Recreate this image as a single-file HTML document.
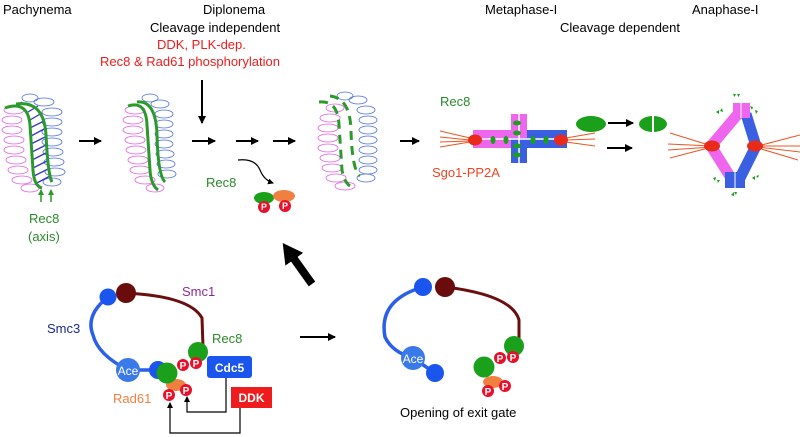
<!DOCTYPE html>
<html><head><meta charset="utf-8"><style>
html,body{margin:0;padding:0;background:#fff;}
svg{display:block;font-family:"Liberation Sans",sans-serif;}
</style></head><body>
<svg width="800" height="437" viewBox="0 0 800 437" xmlns="http://www.w3.org/2000/svg">
<defs>
<marker id="ah" markerWidth="8" markerHeight="8" refX="7" refY="4" orient="auto" markerUnits="userSpaceOnUse"><path d="M0,0 L8,4 L0,8 z" fill="#000"/></marker>
<marker id="ahs" markerWidth="6" markerHeight="6" refX="5" refY="3" orient="auto" markerUnits="userSpaceOnUse"><path d="M0,0 L6,3 L0,6 z" fill="#000"/></marker>
<marker id="ahg" markerWidth="6" markerHeight="6" refX="5" refY="3" orient="auto" markerUnits="userSpaceOnUse"><path d="M0,0 L6,3 L0,6 z" fill="#2a9a2a"/></marker>
<marker id="ahb" markerWidth="22" markerHeight="22" refX="4" refY="11" orient="auto" markerUnits="userSpaceOnUse"><path d="M0,0 L20,11 L0,22 z" fill="#000"/></marker>
<g id="lp"><ellipse cx="0" cy="0" rx="9" ry="3.5" fill="none" stroke-width="0.8"/></g>
</defs>

<!-- Titles -->
<g font-size="13" fill="#000">
<text x="3" y="14">Pachynema</text>
<text x="203" y="14">Diplonema</text>
<text x="150" y="32">Cleavage independent</text>
<text x="485" y="14">Metaphase-I</text>
<text x="692" y="14">Anaphase-I</text>
<text x="560" y="32">Cleavage dependent</text>
</g>
<g font-size="13" fill="#ee1c1c">
<text x="157" y="49">DDK, PLK-dep.</text>
<text x="100" y="66">Rec8 &amp; Rad61 phosphorylation</text>
</g>

<!-- Chromosome 1 -->
<g stroke="#e060e0" fill="none" stroke-width="0.8">
<ellipse cx="14" cy="110" rx="10" ry="4"/><ellipse cx="12" cy="120" rx="10" ry="4"/><ellipse cx="12" cy="130" rx="10" ry="4"/><ellipse cx="14" cy="140" rx="10" ry="4"/><ellipse cx="14" cy="150" rx="10" ry="4"/><ellipse cx="16" cy="160" rx="10" ry="4"/><ellipse cx="18" cy="170" rx="10" ry="4"/><ellipse cx="22" cy="180" rx="10" ry="4"/><ellipse cx="30" cy="188" rx="9" ry="4"/>
</g>
<g stroke="#4a6ee0" fill="none" stroke-width="0.8">
<ellipse cx="30" cy="98" rx="8" ry="4"/><ellipse cx="44" cy="102" rx="10" ry="4"/><ellipse cx="52" cy="112" rx="10" ry="4"/><ellipse cx="52" cy="122" rx="10" ry="4"/><ellipse cx="52" cy="132" rx="10" ry="4"/><ellipse cx="52" cy="142" rx="10" ry="4"/><ellipse cx="53" cy="152" rx="10" ry="4"/><ellipse cx="54" cy="162" rx="10" ry="4"/><ellipse cx="55" cy="172" rx="10" ry="4"/><ellipse cx="52" cy="182" rx="9" ry="4"/>
</g>
<path d="M14 106 L40 104 L50 180 L38 188 L32 186 L30 110 Z" fill="none"/>
<g stroke="#3333cc" stroke-width="1.3">
<line x1="14" y1="107" x2="22" y2="102"/><line x1="28" y1="112" x2="38" y2="106"/><line x1="30" y1="120" x2="42" y2="113"/><line x1="30" y1="128" x2="44" y2="121"/><line x1="31" y1="136" x2="46" y2="128"/><line x1="31" y1="144" x2="47" y2="136"/><line x1="32" y1="152" x2="48" y2="144"/><line x1="32" y1="160" x2="48" y2="152"/><line x1="33" y1="168" x2="49" y2="160"/><line x1="34" y1="176" x2="50" y2="168"/><line x1="35" y1="184" x2="50" y2="176"/>
</g>
<path d="M5 108 Q28 100 30 125 L33 170 Q34 186 42 188" stroke="#2a9a2a" stroke-width="3" fill="none"/>
<path d="M16 104 Q44 100 46 135 Q48 175 52 182" stroke="#2a9a2a" stroke-width="3" fill="none"/>
<line x1="41" y1="202" x2="41" y2="190" stroke="#2a9a2a" stroke-width="1.5" marker-end="url(#ahg)"/>
<line x1="51" y1="202" x2="51" y2="190" stroke="#2a9a2a" stroke-width="1.5" marker-end="url(#ahg)"/>
<text x="29" y="223" font-size="13" fill="#2a8a2a">Rec8</text>
<text x="28" y="241" font-size="13" fill="#2a8a2a">(axis)</text>

<!-- Chromosome 2 -->
<g stroke="#e060e0" fill="none" stroke-width="0.8">
<ellipse cx="135" cy="110" rx="10" ry="4"/><ellipse cx="133" cy="120" rx="10" ry="4"/><ellipse cx="133" cy="130" rx="10" ry="4"/><ellipse cx="135" cy="140" rx="10" ry="4"/><ellipse cx="136" cy="150" rx="10" ry="4"/><ellipse cx="138" cy="160" rx="10" ry="4"/><ellipse cx="140" cy="170" rx="10" ry="4"/><ellipse cx="145" cy="180" rx="10" ry="4"/><ellipse cx="155" cy="188" rx="9" ry="4"/>
</g>
<g stroke="#4a6ee0" fill="none" stroke-width="0.8">
<ellipse cx="150" cy="98" rx="8" ry="4"/><ellipse cx="160" cy="104" rx="9" ry="4"/><ellipse cx="164" cy="114" rx="9" ry="4"/><ellipse cx="164" cy="124" rx="9" ry="4"/><ellipse cx="164" cy="134" rx="9" ry="4"/><ellipse cx="164" cy="144" rx="9" ry="4"/><ellipse cx="165" cy="154" rx="9" ry="4"/><ellipse cx="166" cy="164" rx="9" ry="4"/><ellipse cx="167" cy="174" rx="9" ry="4"/>
</g>
<path d="M128 106 Q146 100 147 125 L150 170 Q151 185 158 190" stroke="#2a9a2a" stroke-width="3" fill="none"/>
<path d="M137 102 Q156 100 157 135 Q158 175 165 182" stroke="#2a9a2a" stroke-width="3" fill="none"/>

<!-- Chromosome 3 -->
<g stroke="#e060e0" fill="none" stroke-width="0.8">
<ellipse cx="330" cy="118" rx="10" ry="4"/><ellipse cx="328" cy="128" rx="10" ry="4"/><ellipse cx="328" cy="138" rx="10" ry="4"/><ellipse cx="328" cy="148" rx="10" ry="4"/><ellipse cx="330" cy="158" rx="10" ry="4"/><ellipse cx="332" cy="168" rx="10" ry="4"/><ellipse cx="336" cy="178" rx="10" ry="4"/><ellipse cx="345" cy="186" rx="10" ry="4"/><ellipse cx="335" cy="108" rx="9" ry="4"/>
</g>
<g stroke="#4a6ee0" fill="none" stroke-width="0.8">
<ellipse cx="345" cy="96" rx="8" ry="4"/><ellipse cx="358" cy="100" rx="9" ry="4"/><ellipse cx="366" cy="110" rx="9" ry="4"/><ellipse cx="368" cy="120" rx="9" ry="4"/><ellipse cx="368" cy="130" rx="9" ry="4"/><ellipse cx="368" cy="140" rx="9" ry="4"/><ellipse cx="368" cy="150" rx="9" ry="4"/><ellipse cx="368" cy="160" rx="9" ry="4"/><ellipse cx="368" cy="170" rx="9" ry="4"/><ellipse cx="366" cy="178" rx="9" ry="4"/>
</g>
<path d="M319 102 Q338 100 339 125 L342 170 Q344 182 350 186" stroke="#2a9a2a" stroke-width="3" fill="none" stroke-dasharray="9 6"/>
<path d="M330 96 Q350 98 351 130 Q352 170 360 176" stroke="#2a9a2a" stroke-width="3" fill="none" stroke-dasharray="9 6"/>

<!-- Arrows top row -->
<g stroke="#000" stroke-width="2">
<line x1="79" y1="141" x2="101" y2="141" marker-end="url(#ah)"/>
<line x1="192" y1="141" x2="215" y2="141" marker-end="url(#ah)"/>
<line x1="236" y1="141" x2="258" y2="141" marker-end="url(#ah)"/>
<line x1="273" y1="141" x2="295" y2="141" marker-end="url(#ah)"/>
<line x1="400" y1="141" x2="419" y2="141" marker-end="url(#ah)"/>
<line x1="202" y1="80" x2="202" y2="123" marker-end="url(#ah)"/>
<line x1="608" y1="123" x2="633" y2="123" marker-end="url(#ah)"/>
<line x1="607" y1="148" x2="632" y2="148" marker-end="url(#ah)"/>
</g>
<path d="M238 160 Q255 158 260 170 Q264 180 273 183" stroke="#000" stroke-width="1.2" fill="none" marker-end="url(#ahs)"/>
<text x="206" y="187" font-size="13" fill="#2a8a2a">Rec8</text>
<ellipse cx="264" cy="198" rx="10" ry="6" fill="#1aa01a"/>
<ellipse cx="284" cy="196" rx="11" ry="6" fill="#f08040"/>
<g font-size="9" fill="#fff" font-weight="bold" text-anchor="middle">
<circle cx="264" cy="207" r="6" fill="#e8102a"/><text x="264" y="210">P</text>
<circle cx="285" cy="206" r="6" fill="#e8102a"/><text x="285" y="209">P</text>
</g>

<!-- Metaphase-I -->
<text x="440" y="106" font-size="13" fill="#2a8a2a">Rec8</text>
<text x="432" y="177" font-size="13" fill="#ee4422">Sgo1-PP2A</text>
<g stroke="#ee5522" stroke-width="1">
<line x1="440" y1="131" x2="470" y2="138"/><line x1="440" y1="137" x2="470" y2="140"/><line x1="440" y1="142" x2="470" y2="141"/><line x1="440" y1="147" x2="470" y2="142"/>
<line x1="566" y1="138" x2="595" y2="133"/><line x1="566" y1="140" x2="595" y2="139"/><line x1="566" y1="142" x2="595" y2="146"/>
</g>
<rect x="473" y="130" width="54" height="18" fill="#ee66ee"/>
<rect x="527" y="130" width="40" height="18" fill="#3a5fe0"/>
<rect x="511" y="114" width="16" height="24" fill="#ee66ee"/>
<rect x="511" y="138" width="16" height="25" fill="#3a5fe0"/>
<line x1="473" y1="139" x2="567" y2="139" stroke="#fff" stroke-width="1.5"/>
<line x1="519" y1="114" x2="519" y2="163" stroke="#fff" stroke-width="1.5"/>
<g fill="#1aa01a">
<ellipse cx="493" cy="140" rx="2.5" ry="4"/><ellipse cx="506" cy="140" rx="2.5" ry="4"/><ellipse cx="533" cy="140" rx="2.5" ry="4"/><ellipse cx="546" cy="140" rx="2.5" ry="4"/>
<ellipse cx="517" cy="123" rx="4" ry="2.5"/><ellipse cx="517" cy="133" rx="4" ry="2.5"/><ellipse cx="517" cy="146" rx="4" ry="2.5"/><ellipse cx="517" cy="155" rx="4" ry="2.5"/>
</g>
<ellipse cx="475" cy="140" rx="7" ry="5.5" fill="#e82a1a"/>
<ellipse cx="561" cy="140" rx="7" ry="5.5" fill="#e82a1a"/>
<ellipse cx="591" cy="124" rx="15" ry="8" fill="#1aa01a"/>
<ellipse cx="653" cy="124" rx="14" ry="8" fill="#1aa01a"/>
<line x1="653" y1="115" x2="653" y2="133" stroke="#fff" stroke-width="2"/>

<!-- Anaphase-I -->
<g stroke="#ee5522" stroke-width="1">
<line x1="670" y1="133" x2="712" y2="146"/><line x1="668" y1="144" x2="712" y2="146"/><line x1="668" y1="150" x2="712" y2="147"/><line x1="670" y1="158" x2="712" y2="147"/>
<line x1="758" y1="146" x2="800" y2="135"/><line x1="758" y1="146" x2="800" y2="146"/><line x1="758" y1="147" x2="800" y2="152"/><line x1="758" y1="148" x2="798" y2="160"/>
</g>
<path d="M738 114 L711 146 L731 178" stroke="#ee66ee" stroke-width="11" fill="none" stroke-linejoin="miter"/>
<path d="M746 114 L756 146 L740 178" stroke="#3a5fe0" stroke-width="11" fill="none" stroke-linejoin="miter"/>
<rect x="733" y="103" width="17" height="15" fill="#ee66ee"/>
<rect x="725" y="172" width="20" height="16" fill="#3a5fe0"/>
<line x1="741" y1="103" x2="741" y2="118" stroke="#fff" stroke-width="1"/>
<line x1="735" y1="172" x2="735" y2="188" stroke="#fff" stroke-width="1"/>
<ellipse cx="712" cy="146" rx="8" ry="5.5" fill="#e82a1a"/>
<ellipse cx="755" cy="146" rx="8" ry="5.5" fill="#e82a1a"/>
<g fill="#1aa01a">
<path d="M733 94 l3 0 l-1.5 3z"/><path d="M737 94 l3 0 l-1.5 3z"/>
<path d="M716 112 l3 -2 l0 4z"/><path d="M720 111 l2 -3 l1 4z"/>
<path d="M750 106 l3 1 l-1 3z"/><path d="M755 110 l3 1 l-2 3z"/>
<path d="M713 178 l3 -1 l-1 4z"/><path d="M717 180 l3 0 l-2 3z"/>
<path d="M752 178 l3 -2 l0 4z"/><path d="M756 176 l3 -1 l-1 3z"/>
<path d="M731 195 l3 -3 l0 4z"/><path d="M736 195 l-2 -3 l3 0z"/>
</g>

<!-- Big arrow -->
<line x1="312" y1="284" x2="292" y2="256" stroke="#000" stroke-width="8" marker-end="url(#ahb)"/>

<!-- Bottom left complex -->
<path d="M108 297 Q85 315 93 335 Q98 355 128 370" stroke="#2a5fe8" stroke-width="3.5" fill="none"/>
<line x1="128" y1="370" x2="158" y2="370" stroke="#2a5fe8" stroke-width="3.5"/>
<path d="M125 293 Q190 296 202 318 L203 347" stroke="#6a0e0e" stroke-width="3" fill="none"/>
<circle cx="108" cy="297" r="8.5" fill="#1a55ee"/>
<circle cx="126" cy="293" r="10" fill="#6a0c0c"/>
<circle cx="128" cy="370" r="12" fill="#3a7ae8"/>
<text x="128" y="375" font-size="12" fill="#fff" text-anchor="middle">Ace</text>
<circle cx="158" cy="370" r="9" fill="#1a55ee"/>
<circle cx="198" cy="352" r="10" fill="#1aa01a"/>
<ellipse cx="176" cy="385" rx="10" ry="6" fill="#f08040"/>
<circle cx="167" cy="373" r="10.5" fill="#1aa01a"/>
<g font-size="10" fill="#fff" font-weight="bold" text-anchor="middle">
<ellipse cx="183" cy="365" rx="6" ry="6" fill="#e8102a"/><text x="183" y="369">P</text>
<ellipse cx="196" cy="363" rx="6" ry="6" fill="#e8102a"/><text x="196" y="367">P</text>
<ellipse cx="169" cy="395" rx="6" ry="6" fill="#e8102a"/><text x="169" y="399">P</text>
<ellipse cx="186" cy="390" rx="6" ry="6" fill="#e8102a"/><text x="186" y="394">P</text>
</g>
<rect x="207" y="356" width="45" height="22" rx="3" fill="#1a55ee"/>
<text x="229.5" y="372" font-size="12" font-weight="bold" fill="#fff" text-anchor="middle">Cdc5</text>
<rect x="231" y="387" width="41" height="21" fill="#ee1c1c"/>
<text x="251.5" y="402" font-size="12" font-weight="bold" fill="#fff" text-anchor="middle">DDK</text>
<g stroke="#000" stroke-width="1.2" fill="none">
<polyline points="226,378 226,412 187,412 187,397" marker-end="url(#ahs)"/>
<polyline points="240,408 240,433 170,433 170,403" marker-end="url(#ahs)"/>
</g>
<text x="182" y="296" font-size="13" fill="#8a2a9a">Smc1</text>
<text x="47" y="333" font-size="13" fill="#1a2a8a">Smc3</text>
<text x="212" y="343" font-size="13" fill="#2a8a2a">Rec8</text>
<text x="113" y="403" font-size="13" fill="#f08040">Rad61</text>

<line x1="300" y1="337" x2="335" y2="337" stroke="#000" stroke-width="2" marker-end="url(#ah)"/>

<!-- Bottom right complex -->
<path d="M423 287 Q378 300 385 337 Q392 352 413 358" stroke="#2a5fe8" stroke-width="3.5" fill="none"/>
<line x1="413" y1="358" x2="435" y2="373" stroke="#2a5fe8" stroke-width="3.5"/>
<path d="M445 287 Q512 295 519 320 L519 340" stroke="#6a0e0e" stroke-width="3" fill="none"/>
<circle cx="423" cy="287" r="9" fill="#1a55ee"/>
<circle cx="445" cy="287" r="10" fill="#6a0c0c"/>
<circle cx="413" cy="358" r="12" fill="#3a7ae8"/>
<text x="413" y="363" font-size="12" fill="#fff" text-anchor="middle">Ace</text>
<circle cx="435" cy="373" r="9" fill="#1a55ee"/>
<circle cx="514" cy="346" r="10" fill="#1aa01a"/>
<ellipse cx="493" cy="382" rx="10" ry="6" fill="#f08040"/>
<circle cx="484" cy="367" r="10.5" fill="#1aa01a"/>
<g font-size="10" fill="#fff" font-weight="bold" text-anchor="middle">
<ellipse cx="500" cy="358" rx="6" ry="6" fill="#e8102a"/><text x="500" y="362">P</text>
<ellipse cx="513" cy="357" rx="6" ry="6" fill="#e8102a"/><text x="513" y="361">P</text>
<ellipse cx="488" cy="391" rx="6" ry="6" fill="#e8102a"/><text x="488" y="395">P</text>
<ellipse cx="505" cy="386" rx="6" ry="6" fill="#e8102a"/><text x="505" y="390">P</text>
</g>
<text x="400" y="417" font-size="13" fill="#000">Opening of exit gate</text>
</svg>
</body></html>
